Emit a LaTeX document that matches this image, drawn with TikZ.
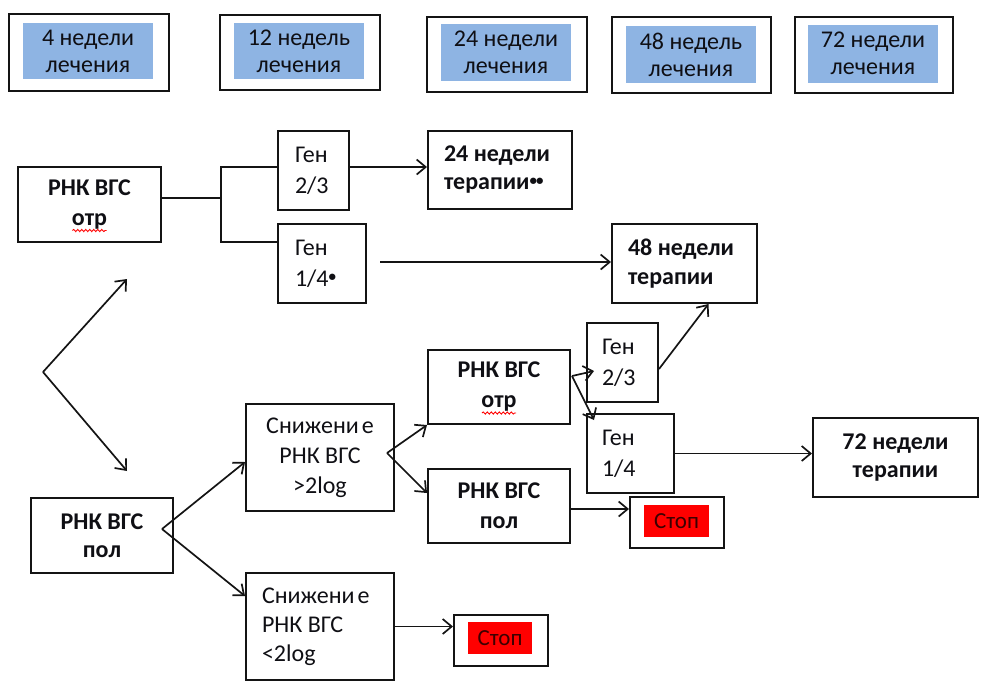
\documentclass[tikz,border=0pt]{standalone}
\usepackage{fontspec}
\setmainfont{Carlito}
\usetikzlibrary{arrows.meta,calc,decorations.pathmorphing}
\definecolor{hdrblue}{RGB}{142,180,227}
\definecolor{linec}{RGB}{20,20,20}
\definecolor{txtc}{RGB}{15,15,20}
\definecolor{stopred}{RGB}{255,0,0}
\definecolor{stoptxt}{RGB}{60,0,0}
\begin{document}
\begin{tikzpicture}[x=1pt,y=-1pt,
 frame/.style={draw=linec, line width=2pt, inner sep=0pt},
 hdrfill/.style={fill=hdrblue, inner sep=0pt, align=flush center, text=txtc, font=\fontsize{24}{27}\selectfont},
 boldbox/.style={frame, align=flush center, text=txtc, font=\bfseries\fontsize{24}{30}\selectfont},
 plainbox/.style={frame, text=txtc, font=\fontsize{24}{31}\selectfont},
 redfill/.style={fill=stopred, inner sep=0pt, text=stoptxt, font=\fontsize{23}{26}\selectfont},
 arr/.style={draw=linec, line width=1.7pt, -{Straight Barb[length=9pt,width=15pt,line width=1.7pt]}},
 conn/.style={draw=linec, line width=1.9pt},
 spell/.style={draw=red, line width=0.9pt, decorate, decoration={snake, segment length=4pt, amplitude=1.1pt}}
]
\useasboundingbox (0,0) rectangle (987,697);
% header
\node[frame, minimum width=160pt, minimum height=77pt] (h1) at (89,52.5) {};
\node[hdrfill, minimum width=130pt, minimum height=56pt] (h1t) at (88,51) {4 недели\\лечения};
\node[frame, minimum width=160pt, minimum height=75pt] (h2) at (300,52.5) {};
\node[hdrfill, minimum width=130pt, minimum height=56pt] (h2t) at (299,51) {12 недель\\лечения};
\node[frame, minimum width=160pt, minimum height=75pt] (h3) at (507,54.5) {};
\node[hdrfill, minimum width=130pt, minimum height=57pt] (h3t) at (506,52.5) {24 недели\\лечения};
\node[frame, minimum width=159pt, minimum height=76pt] (h4) at (691.5,55) {};
\node[hdrfill, minimum width=130pt, minimum height=57pt] (h4t) at (691,54.5) {48 недель\\лечения};
\node[frame, minimum width=158pt, minimum height=76pt] (h5) at (874,54.5) {};
\node[hdrfill, minimum width=130pt, minimum height=58pt] (h5t) at (873,53.5) {72 недели\\лечения};
% boxes
\node[boldbox, minimum width=143pt, minimum height=75pt] (A) at (89.5,204.5) {РНК ВГС\\отр};
\node[plainbox, align=flush left, text width=37pt, minimum width=71pt, minimum height=79pt] (G1) at (313.5,170.5) {Ген\\2/3};
\node[plainbox, align=flush left, text width=54pt, minimum width=88pt, minimum height=79pt] (G2) at (322,263.5) {Ген\\1/4\raisebox{0.4ex}{\fontsize{15}{15}\selectfont\bfseries •}};
\node[boldbox, align=flush left, text width=112pt, minimum width=144pt, minimum height=78pt, font=\bfseries\fontsize{24}{28}\selectfont] (T24) at (500,170) {24 недели\\терапии\raisebox{0.4ex}{\fontsize{15}{15}\selectfont •\kern-1pt•}};
\node[boldbox, align=flush left, text width=113pt, minimum width=145pt, minimum height=79pt, font=\bfseries\fontsize{24}{29}\selectfont] (T48) at (684.5,263.5) {48 недели\\терапии};
\node[boldbox, minimum width=142pt, minimum height=75pt, font=\bfseries\fontsize{24}{28}\selectfont] (pol) at (102,535.5) {РНК ВГС\\пол};
\node[plainbox, align=flush center, minimum width=148pt, minimum height=107pt, font=\fontsize{24}{30}\selectfont] (S1) at (320,457.5) {Снижени\kern3pt е\\РНК ВГС\\>2log};
\node[plainbox, align=flush left, text width=116pt, minimum width=148pt, minimum height=107pt, font=\fontsize{24}{29}\selectfont] (S2) at (320,626.5) {Снижени\kern3pt е\\РНК ВГС\\<2log};
\node[boldbox, minimum width=142pt, minimum height=74pt] (B2) at (499,387) {РНК ВГС\\отр};
\node[boldbox, minimum width=142pt, minimum height=74pt] (B3) at (499,506) {РНК ВГС\\пол};
\node[plainbox, align=flush left, text width=41pt, minimum width=71pt, minimum height=79pt] (G3) at (622.5,362.5) {Ген\\2/3};
\node[plainbox, align=flush left, text width=57pt, minimum width=87pt, minimum height=79pt] (G4) at (630.5,453.5) {Ген\\1/4};
\node[boldbox, minimum width=165pt, minimum height=79pt, font=\bfseries\fontsize{24}{28}\selectfont] (T72) at (895.5,457.5) {72 недели\\терапии};
\node[frame, minimum width=94pt, minimum height=51pt] (Stop1) at (677,522.5) {};
\node[redfill, minimum width=65pt, minimum height=32pt] (Stop1t) at (676.5,521) {Стоп};
\node[frame, minimum width=94pt, minimum height=51pt] (Stop2) at (501,640.5) {};
\node[redfill, minimum width=64pt, minimum height=32pt] (Stop2t) at (500,638) {Стоп};
% spell-check marks
\draw[spell] ($(A.center)+(-17,26)$) -- ($(A.center)+(17,26)$);
\draw[spell] ($(B2.center)+(-17,26)$) -- ($(B2.center)+(17,26)$);
% connectors
\coordinate (j1) at (221,198);
\coordinate (jt) at (221,167);
\coordinate (jb) at (221,242);
\draw[conn] (A.east |- j1) -- (j1);
\draw[conn] (G1.west |- jt) -- (jt) -- (jb) -- (G2.west |- jb);
\draw[arr] (G1.east |- jt) -- (T24.west |- jt);
\coordinate (g2s) at (380,262);
\draw[arr] (g2s) -- (g2s -| T48.west);
\coordinate (v) at (43,372);
\coordinate (vt) at (127,279);
\coordinate (vb) at (127,471);
\draw[arr] (v) -- (vt);
\draw[arr] (v) -- (vb);
\coordinate (p) at (162,529);
\draw[arr] (p) -- ($(S1.north west)+(0,59)$);
\draw[arr] (p) -- ($(S2.north west)+(0,24)$);
\coordinate (s) at (387,453);
\draw[arr] (s) -- (B2.south west);
\draw[arr] (s) -- ($(B3.north west)+(0,25)$);
\coordinate (b) at (572,376);
\draw[arr] (b) -- ($(G3.north west)+(8,49)$);
\draw[arr] (b) -- ($(G4.north west)+(8,7)$);
\draw[arr] ($(G3.north east)+(0,47)$) -- ($(T48.south)+(24,0)$);
\draw[arr] (G4.east) -- (G4.east -| T72.west);
\coordinate (b3o) at ($(B3.east)+(0,3)$);
\draw[arr] (b3o) -- (b3o -| Stop1.west);
\draw[arr] (S2.east) -- (S2.east -| Stop2.west);
\end{tikzpicture}
\end{document}
